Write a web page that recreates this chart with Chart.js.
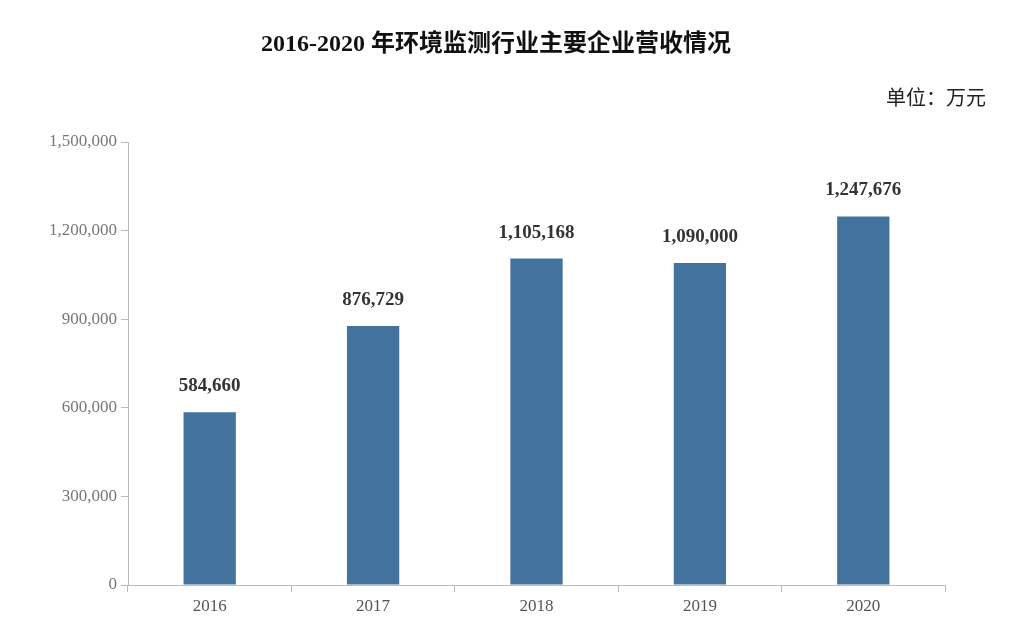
<!DOCTYPE html>
<html><head><meta charset="utf-8">
<script src="https://cdn.jsdelivr.net/npm/chart.js@4/dist/chart.umd.min.js"></script>
<style>html,body{margin:0;padding:0;background:#fff}#w{width:1012px;height:622px}</style>
</head><body><div id="w"><canvas id="c" width="1012" height="622"></canvas></div>
<script>
const categories = ['2016','2017','2018','2019','2020'];
const revenue = [584660, 876729, 1105168, 1090000, 1247676];
const yTicks = [0, 300000, 600000, 900000, 1200000, 1500000];
const titleText = '2016-2020 年环境监测行业主要企业营收情况';
const unitText = '单位：万元';
const serif = '"Liberation Serif","Noto Sans CJK SC",serif';

const overlay = {
  id:'overlay',
  afterDatasetsDraw(chart){
    const ctx = chart.ctx;
    ctx.save();
    ctx.fillStyle = '#111';
    ctx.font = 'bold 24px ' + serif;
    ctx.textAlign = 'center'; ctx.textBaseline = 'middle';
    ctx.fillText(titleText, 496, 45);
    ctx.font = '20px ' + serif;
    ctx.textAlign = 'right'; ctx.fillStyle = '#222';
    ctx.fillText(unitText, 986, 100);
    const meta = chart.getDatasetMeta(0);
    ctx.font = 'bold 19px ' + serif; ctx.fillStyle = '#333';
    ctx.textAlign = 'center';
    meta.data.forEach((b,i)=>{
      ctx.fillText(revenue[i].toLocaleString('en-US'), b.x, b.y - 26);
    });
    ctx.restore();
  }
};

new Chart(document.getElementById('c'), {
  type:'bar',
  data:{labels:categories, datasets:[{data:revenue, backgroundColor:'#44729e', barPercentage:0.32, categoryPercentage:1}]},
  options:{
    responsive:false, animation:false,
    layout:{padding:{top:142,right:67,left:0,bottom:0}},
    plugins:{legend:{display:false},tooltip:{enabled:false},title:{display:false}},
    scales:{
      x:{
        grid:{offset:true, drawOnChartArea:false, color:'#bbb', tickLength:7},
        border:{color:'#bbb'},
        ticks:{color:'#555', font:{family:serif,size:17}, padding:4},
        afterFit(s){s.height=37;}
      },
      y:{
        min:0, max:1500000,
        afterBuildTicks(s){s.ticks = yTicks.map(v=>({value:v}));},
        grid:{drawOnChartArea:false, color:'#bbb', tickLength:7},
        border:{color:'#bbb'},
        ticks:{color:'#777', font:{family:serif,size:17}, padding:4, callback:v=>v.toLocaleString('en-US')},
        afterFit(s){s.width=128;}
      }
    }
  },
  plugins:[overlay]
});
</script></body></html>
